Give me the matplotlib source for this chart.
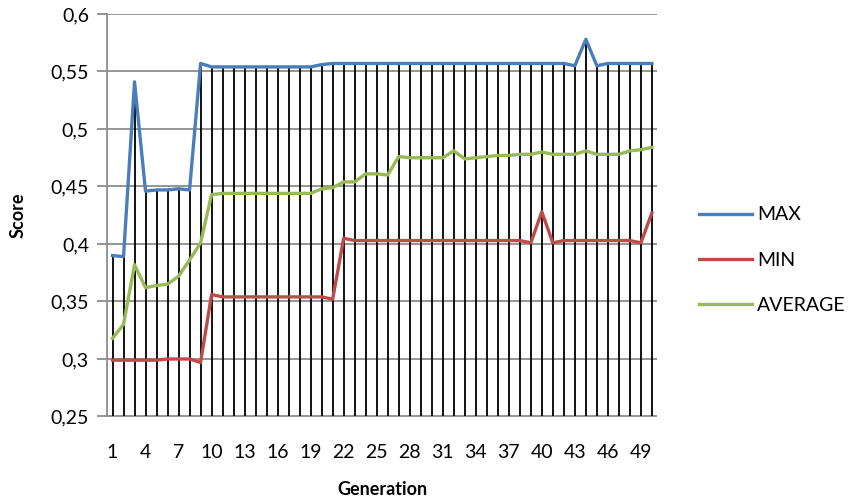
import matplotlib.pyplot as plt
import numpy as np

generations = list(range(1, 51))

max_score = [0.390, 0.389, 0.541, 0.446, 0.447, 0.447, 0.448, 0.447, 0.557, 0.554,
             0.554, 0.554, 0.554, 0.554, 0.554, 0.554, 0.554, 0.554, 0.554, 0.556,
             0.557, 0.557, 0.557, 0.557, 0.557, 0.557, 0.557, 0.557, 0.557, 0.557,
             0.557, 0.557, 0.557, 0.557, 0.557, 0.557, 0.557, 0.557, 0.557, 0.557,
             0.557, 0.557, 0.555, 0.578, 0.555, 0.557, 0.557, 0.557, 0.557, 0.557]

min_score = [0.299, 0.299, 0.299, 0.299, 0.299, 0.300, 0.300, 0.300, 0.297, 0.356,
             0.354, 0.354, 0.354, 0.354, 0.354, 0.354, 0.354, 0.354, 0.354, 0.354,
             0.352, 0.405, 0.403, 0.403, 0.403, 0.403, 0.403, 0.403, 0.403, 0.403,
             0.403, 0.403, 0.403, 0.403, 0.403, 0.403, 0.403, 0.403, 0.401, 0.428,
             0.401, 0.403, 0.403, 0.403, 0.403, 0.403, 0.403, 0.403, 0.401, 0.427]

avg_score = [0.318, 0.330, 0.382, 0.362, 0.364, 0.365, 0.372, 0.386, 0.401, 0.443,
             0.444, 0.444, 0.444, 0.444, 0.444, 0.444, 0.444, 0.444, 0.444, 0.448,
             0.449, 0.454, 0.454, 0.461, 0.461, 0.460, 0.476, 0.475, 0.475, 0.475,
             0.475, 0.481, 0.474, 0.475, 0.476, 0.477, 0.477, 0.478, 0.478, 0.480,
             0.478, 0.478, 0.478, 0.481, 0.478, 0.478, 0.478, 0.481, 0.482, 0.484]

y_ticks = [0.25, 0.3, 0.35, 0.4, 0.45, 0.5, 0.55, 0.6]
y_tick_labels = ["0,25", "0,3", "0,35", "0,4", "0,45", "0,5", "0,55", "0,6"]

plt.rcParams["font.family"] = ["Lato", "DejaVu Sans"]

fig = plt.figure(figsize=(8.56, 5.0), dpi=100)
ax = fig.add_axes([0.125, 0.167, 0.643, 0.805])

grid_color = "#8c8c8c"
for y in y_ticks:
    ax.axhline(y, color=grid_color, lw=1.3, zorder=1)

# drop lines from the top series down to the axis
ax.vlines(generations, 0.25, max_score, color="black", lw=1.3, zorder=2)

ax.plot(generations, max_score, color="#4a7ebb", lw=2.4, label="MAX", zorder=3)
ax.plot(generations, min_score, color="#be4b48", lw=2.4, label="MIN", zorder=3)
ax.plot(generations, avg_score, color="#98b954", lw=2.4, label="AVERAGE", zorder=3)

ax.set_xlim(0.5, 50.5)
ax.set_ylim(0.25, 0.6)
ax.set_yticks(y_ticks)
ax.set_yticklabels(y_tick_labels)
ax.set_xticks(generations[::3])
ax.set_xticklabels([str(g) for g in generations[::3]])

for side in ["top", "right", "bottom"]:
    ax.spines[side].set_visible(False)
ax.spines["left"].set_color(grid_color)
ax.spines["left"].set_linewidth(1.3)
ax.tick_params(axis="y", length=7, width=1.3, color=grid_color, labelsize=14, pad=6)
ax.tick_params(axis="x", length=0, labelsize=14, pad=20)

ax.set_xlabel("Generation", fontsize=13, fontweight="bold", labelpad=14)
ax.set_ylabel("Score", fontsize=13, fontweight="bold", labelpad=17)

ax.legend(loc="center left", bbox_to_anchor=(0.8166, 0.48), bbox_transform=fig.transFigure,
          frameon=False, fontsize=14, handlelength=2.7, handletextpad=0.3,
          labelspacing=1.45, borderpad=0, borderaxespad=0)

fig.savefig("out.png", dpi=100)
